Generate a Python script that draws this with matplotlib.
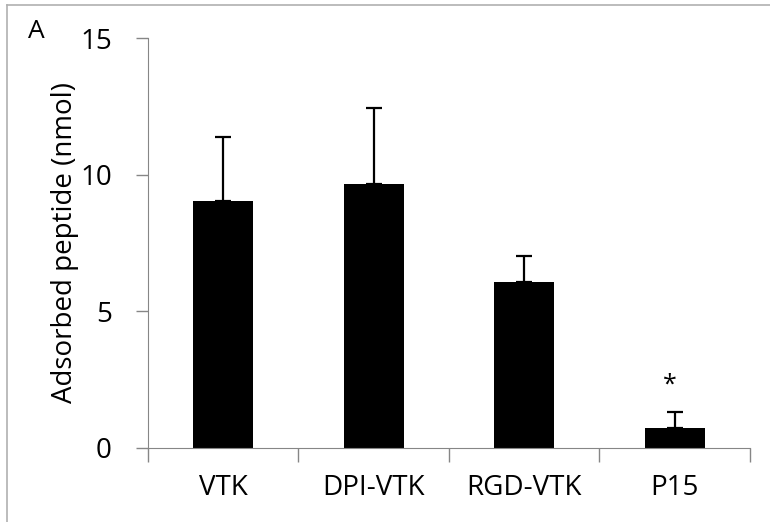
import matplotlib.pyplot as plt
from matplotlib.lines import Line2D
import numpy as np

plt.rcParams['font.family'] = ['Open Sans', 'DejaVu Sans']

# data
peptides = ['VTK', 'DPI-VTK', 'RGD-VTK', 'P15']
adsorbed = [9.05, 9.66, 6.08, 0.74]
sd = [2.32, 2.78, 0.94, 0.58]
yticks = [0, 5, 10, 15]
star_y = 2.3  # asterisk above P15

fig = plt.figure(figsize=(7.7, 5.22), dpi=100)
ax = fig.add_axes([0.192, 0.142, 0.782, 0.785])

x = np.arange(len(peptides))
ax.bar(x, adsorbed, width=0.4, color='black', zorder=2)
ax.errorbar(x, adsorbed, yerr=[np.zeros(len(sd)), sd], fmt='none',
            ecolor='black', elinewidth=1.6, capsize=6, capthick=1.6, zorder=3)
ax.text(x[3] - 0.03, star_y, '*', ha='center', va='center', fontsize=18)

ax.set_xlim(-0.5, len(peptides) - 0.5)
ax.set_ylim(0, 15)
ax.set_yticks(yticks)
ax.set_yticklabels([str(v) for v in yticks])
ax.set_xticks(x)
ax.set_xticklabels(peptides)
ax.set_xticks(np.arange(len(peptides) + 1) - 0.5, minor=True)
ax.tick_params(axis='x', which='major', length=0, pad=19, labelsize=20)
ax.tick_params(axis='x', which='minor', length=10, width=1, color='#868686')
ax.tick_params(axis='y', length=9, width=1, color='#868686', pad=17, labelsize=20)
ax.spines['right'].set_visible(False)
ax.spines['top'].set_visible(False)
ax.spines['left'].set_color('#868686')
ax.spines['bottom'].set_color('#868686')
ax.set_ylabel('Adsorbed peptide (nmol)', fontsize=20, labelpad=1)

fig.text(0.036, 0.94, 'A', fontsize=19, ha='left', va='center')

# chart frame lines (top and left only)
fig.add_artist(Line2D([7 / 770, 1], [1 - 5 / 522, 1 - 5 / 522],
                      transform=fig.transFigure, color='#b0b0b0', lw=1.2))
fig.add_artist(Line2D([7 / 770, 7 / 770], [0, 1 - 5 / 522],
                      transform=fig.transFigure, color='#b0b0b0', lw=1.2))

plt.savefig('out.png', dpi=100)
